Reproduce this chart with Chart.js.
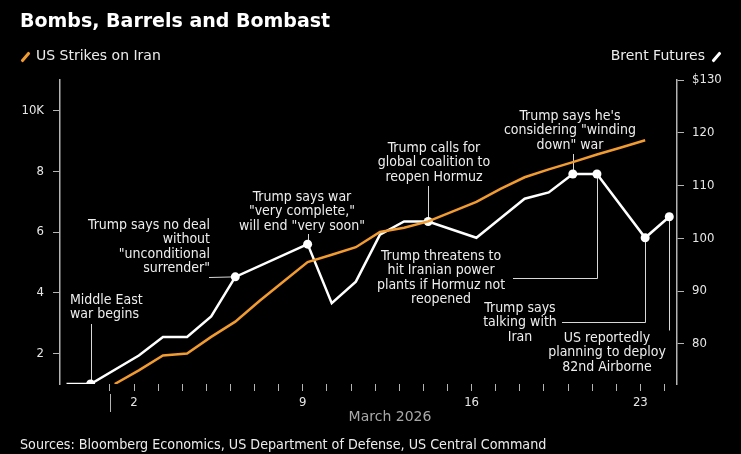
<!DOCTYPE html>
<html>
<head>
<meta charset="utf-8">
<title>Bombs, Barrels and Bombast</title>
<script src="https://cdn.jsdelivr.net/npm/chart.js@4.4.1/dist/chart.umd.min.js"></script>
<style>
  body { margin: 0; background: #000; }
  #wrap { position: relative; width: 741px; height: 454px; background: #000; overflow: hidden; }
  #chart { position: absolute; left: 0; top: 0; }
  .txt { position: absolute; color: #ececec; font-family: "DejaVu Sans", sans-serif; white-space: nowrap; }
  #title { left: 20px; top: 9px; font-weight: bold; font-size: 19px; color: #fff; }
  #legL { left: 36px; top: 47px; font-size: 14px; }
  #legR { right: 36px; top: 47px; font-size: 14px; }
  #src { left: 20px; top: 436px; font-size: 14.2px; font-family: "DejaVu Sans Condensed", "DejaVu Sans", sans-serif; }
  .slash { position: absolute; width: 3px; height: 12px; transform: rotate(40deg); border-radius: 1px; }
</style>
</head>
<body>
<div id="wrap">
  <canvas id="chart" width="741" height="454"></canvas>
  <div id="title" class="txt">Bombs, Barrels and Bombast</div>
  <div class="slash" style="left:24px;top:51px;background:#f29b30"></div>
  <div id="legL" class="txt">US Strikes on Iran</div>
  <div id="legR" class="txt">Brent Futures</div>
  <div class="slash" style="left:715px;top:51px;background:#fff"></div>
  <div id="src" class="txt">Sources: Bloomberg Economics, US Department of Defense, US Central Command</div>
</div>
<script>
// days are March 2026 day numbers (Feb 28 = 0, Feb 27 = -1)
const strikeDays = [1, 2, 3, 4, 5, 6, 7, 8, 9, 10, 11, 12, 13, 14, 15, 16, 17, 18, 19, 20, 21, 22, 23];
const strikeTotals = [1.0, 1.45, 1.94, 2.0, 2.55, 3.05, 3.73, 4.37, 5.01, 5.25, 5.5, 6.0, 6.14, 6.35, 6.67, 6.99, 7.42, 7.8, 8.06, 8.3, 8.55, 8.78, 9.02]; // thousands

const brentDays = [-1, 0, 2, 3, 4, 5, 6, 9, 10, 11, 12, 13, 14, 16, 17, 18, 19, 20, 21, 23, 24];
const brentPrices = [72.4, 72.4, 77.8, 81.3, 81.3, 85.2, 92.7, 98.9, 87.7, 91.8, 100.7, 103.2, 103.2, 100.1, 103.8, 107.5, 108.7, 112.2, 112.2, 100.1, 104.1];

const tickDays = [1, 2, 3, 4, 5, 6, 7, 8, 9, 10, 11, 12, 13, 14, 15, 16, 17, 18, 19, 20, 21, 22, 23, 24];
const labelDays = [2, 9, 16, 23];
const leftTicks = [2, 4, 6, 8, 10];
const rightTicks = [80, 90, 100, 110, 120, 130];

// events marked on the Brent line
const eventDays = [0, 6, 9, 14, 20, 21, 23, 24];
const eventTexts = [
  ['Middle East', 'war begins'],
  ['Trump says no deal', 'without', '"unconditional', 'surrender"'],
  ['Trump says war', '"very complete,"', 'will end "very soon"'],
  ['Trump calls for', 'global coalition to', 'reopen Hormuz'],
  ['Trump says he\'s', 'considering "winding', 'down" war'],
  ['Trump threatens to', 'hit Iranian power', 'plants if Hormuz not', 'reopened'],
  ['Trump says', 'talking with', 'Iran'],
  ['US reportedly', 'planning to deploy', '82nd Airborne']
];

// where each callout text sits and how its leader runs
// lead: 'up'/'down' to y, or 'left' to x, or elbow down to y then left to x
const callouts = [
  { x: 70,  y: 300, align: 'left',   lead: { up: 324 } },
  { x: 210, y: 225, align: 'right',  lead: { left: 209 } },
  { x: 302, y: 197, align: 'center', lead: { up: 234 } },
  { x: 434, y: 148, align: 'center', lead: { up: 186 } },
  { x: 570, y: 116, align: 'center', lead: { up: 154 } },
  { x: 441, y: 256, align: 'center', lead: { down: 278, left: 513 } },
  { x: 520, y: 308, align: 'center', lead: { down: 322, left: 562 } },
  { x: 607, y: 338, align: 'center', lead: { down: 330 } }
];

const closeShift = 0.2;   // points sit a little past the day tick
const orange = '#f29b30';
const axisGrey = '#b4b4b4';
const condensed = 'DejaVu Sans Condensed, DejaVu Sans, sans-serif';
const labelFont = { family: condensed, size: 13 };

Chart.defaults.font.family = condensed;
Chart.defaults.color = '#e6e6e6';

const brentPoints = brentDays.map((d, i) => ({ x: d + closeShift, y: brentPrices[i] }));
const strikePoints = strikeDays.map((d, i) => ({ x: d + closeShift, y: strikeTotals[i] }));

const calloutPlugin = {
  id: 'callouts',
  beforeDatasetsDraw(chart) {
    const ctx = chart.ctx;
    const xs = chart.scales.x, yr = chart.scales.yR;
    ctx.save();
    ctx.strokeStyle = '#d8d8d8';
    ctx.lineWidth = 1;
    eventDays.forEach((d, i) => {
      const idx = brentDays.indexOf(d);
      const px = Math.round(xs.getPixelForValue(d + closeShift)) + 0.5;
      const py = yr.getPixelForValue(brentPrices[idx]);
      const lead = callouts[i].lead;
      ctx.beginPath();
      ctx.moveTo(px, py);
      if (lead.up !== undefined) ctx.lineTo(px, lead.up);
      else if (lead.down !== undefined) {
        ctx.lineTo(px, lead.down + 0.5);
        if (lead.left !== undefined) ctx.lineTo(lead.left, lead.down + 0.5);
      } else if (lead.left !== undefined) ctx.lineTo(lead.left, Math.round(py) + 0.5);
      ctx.stroke();
    });
    ctx.restore();
  },
  afterDraw(chart) {
    const ctx = chart.ctx;
    const xs = chart.scales.x;
    ctx.save();
    ctx.fillStyle = '#ededed';
    ctx.font = '14px ' + condensed;
    ctx.textBaseline = 'middle';
    eventTexts.forEach((lines, i) => {
      const c = callouts[i];
      ctx.textAlign = c.align;
      lines.forEach((t, k) => ctx.fillText(t, c.x, c.y + k * 14.6));
    });
    // month divider and axis title
    const mx = Math.round(xs.getPixelForValue(1)) + 0.5;
    ctx.strokeStyle = axisGrey;
    ctx.beginPath();
    ctx.moveTo(mx, 394);
    ctx.lineTo(mx, 412);
    ctx.stroke();
    ctx.fillStyle = '#a8a8a8';
    ctx.textAlign = 'center';
    ctx.font = '14px DejaVu Sans, sans-serif';
    ctx.fillText('March 2026', 390, 417);
    ctx.restore();
  }
};

const chart = new Chart(document.getElementById('chart'), {
  type: 'line',
  data: {
    datasets: [{
      label: 'US Strikes on Iran',
      data: strikePoints,
      yAxisID: 'yL',
      borderColor: orange,
      borderWidth: 2.5,
      pointRadius: 0,
      tension: 0
    }, {
      label: 'Brent Futures',
      data: brentPoints,
      yAxisID: 'yR',
      borderColor: '#ffffff',
      borderWidth: 2.5,
      pointRadius: brentDays.map(d => eventDays.includes(d) ? 4.5 : 0),
      pointBackgroundColor: '#ffffff',
      pointBorderWidth: 0,
      tension: 0
    }]
  },
  options: {
    responsive: false,
    animation: false,
    devicePixelRatio: 1,
    layout: { padding: { top: 80, left: 0, right: 0, bottom: 0 } },
    plugins: { legend: { display: false }, tooltip: { enabled: false } },
    scales: {
      x: {
        type: 'linear',
        min: -1.07,
        max: 24.52,
        afterBuildTicks: s => { s.ticks = tickDays.map(v => ({ value: v })); },
        afterFit: s => { s.height = 70; },
        ticks: {
          autoSkip: false,
          maxRotation: 0,
          padding: 4,
          color: '#e6e6e6',
          font: labelFont,
          callback: v => labelDays.includes(v) ? String(v) : ''
        },
        grid: { drawOnChartArea: false, drawTicks: true, tickLength: 7, color: axisGrey, lineWidth: 1 },
        border: { display: false }
      },
      yL: {
        position: 'left',
        min: 1,
        max: 11,
        afterBuildTicks: s => { s.ticks = leftTicks.map(v => ({ value: v })); },
        afterFit: s => { s.width = 60; },
        ticks: {
          padding: 9,
          color: '#e6e6e6',
          font: labelFont,
          callback: v => v === 10 ? '10K' : String(v)
        },
        grid: { drawOnChartArea: false, drawTicks: true, tickLength: 7, color: axisGrey },
        border: { display: true, color: axisGrey, width: 1.5 }
      },
      yR: {
        position: 'right',
        min: 72.4,
        max: 130,
        afterBuildTicks: s => { s.ticks = rightTicks.map(v => ({ value: v })); },
        afterFit: s => { s.width = 64; },
        ticks: {
          padding: 8,
          color: '#e6e6e6',
          font: labelFont,
          callback: v => v === 130 ? '$130' : String(v)
        },
        grid: { drawOnChartArea: false, drawTicks: true, tickLength: 7, color: axisGrey },
        border: { display: true, color: axisGrey, width: 1.5 }
      }
    }
  },
  plugins: [calloutPlugin]
});
</script>
</body>
</html>
